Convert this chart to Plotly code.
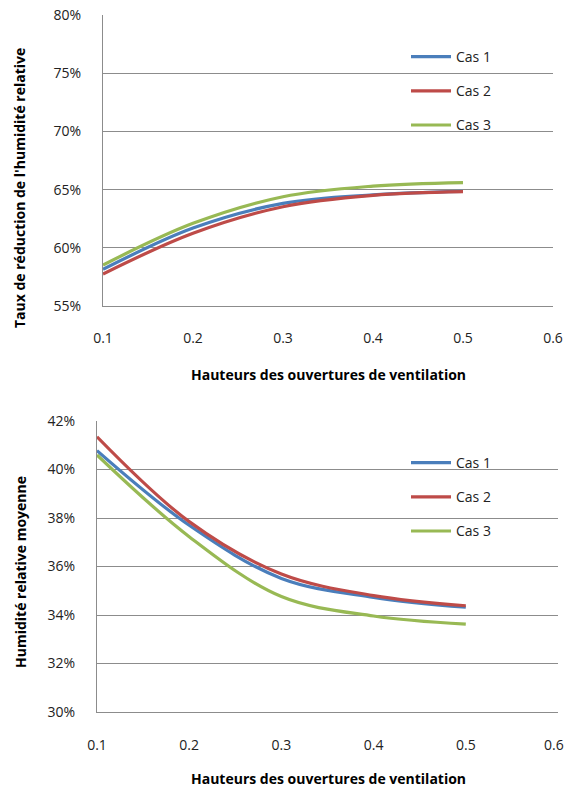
import plotly.graph_objects as go

x_vals = [0.1, 0.2, 0.3, 0.4, 0.5]
series_names = ["Cas 1", "Cas 2", "Cas 3"]
colors = ["#4A7EBB", "#BE4B48", "#98B954"]

# Top chart: Taux de réduction de l'humidité relative (%)
top_cas1 = [58.15, 61.7, 63.82, 64.55, 64.84]
top_cas2 = [57.75, 61.25, 63.53, 64.5, 64.82]
top_cas3 = [58.52, 62.1, 64.39, 65.3, 65.6]

# Bottom chart: Humidité relative moyenne (%)
bot_cas1 = [40.78, 37.7, 35.51, 34.73, 34.32]
bot_cas2 = [41.35, 37.85, 35.69, 34.8, 34.38]
bot_cas3 = [40.6, 37.23, 34.76, 33.96, 33.62]

x_ticks = [0.1, 0.2, 0.3, 0.4, 0.5, 0.6]
x_tick_text = ["0.1", "0.2", "0.3", "0.4", "0.5", "0.6"]
top_y_ticks = [55, 60, 65, 70, 75, 80]
bot_y_ticks = [30, 32, 34, 36, 38, 40, 42]

W, H = 565, 787
FONT = "Open Sans"
GRID = "#8C8C8C"
TICK_COLOR = "#222"

fig = go.Figure()
top_series = [top_cas1, top_cas2, top_cas3]
bot_series = [bot_cas1, bot_cas2, bot_cas3]
for i, (name, col, ys) in enumerate(zip(series_names, colors, top_series)):
    fig.add_trace(go.Scatter(x=x_vals, y=[v / 100 for v in ys], mode="lines",
                             line=dict(color=col, width=3.2, shape="spline", smoothing=1.0),
                             name=name, xaxis="x", yaxis="y", showlegend=True, legend="legend",
                             legendgroup=f"t{i}"))
for i, (name, col, ys) in enumerate(zip(series_names, colors, bot_series)):
    fig.add_trace(go.Scatter(x=x_vals, y=[v / 100 for v in ys], mode="lines",
                             line=dict(color=col, width=3.2, shape="spline", smoothing=1.0),
                             name=name, xaxis="x2", yaxis="y2", showlegend=True, legend="legend2",
                             legendgroup=f"b{i}"))

def px_x(p):
    return p / W

def px_y(p):
    return 1 - p / H

axis_common = dict(showgrid=True, gridcolor=GRID, gridwidth=1, zeroline=False, automargin=False,
                   ticks="", tickfont=dict(family=FONT, size=14, color=TICK_COLOR),
                   showline=True, linecolor=GRID, linewidth=1)

leg_common = dict(xanchor="left", yanchor="top",
                  font=dict(family=FONT, size=14, color=TICK_COLOR), bgcolor="rgba(0,0,0,0)",
                  tracegroupgap=13, itemwidth=40)

fig.update_layout(
    width=W, height=H, margin=dict(l=0, r=0, t=0, b=0),
    paper_bgcolor="white", plot_bgcolor="white",
    xaxis=dict(domain=[px_x(103), px_x(553)], range=[0.1, 0.6], anchor="y",
               tickvals=x_ticks, ticktext=x_tick_text, ticklabelstandoff=19,
               **{**axis_common, "showgrid": False}),
    yaxis=dict(domain=[px_y(306), px_y(15)], range=[0.55, 0.80], anchor="x",
               tickvals=[v / 100 for v in top_y_ticks], ticktext=[f"{v}%" for v in top_y_ticks],
               ticklabelstandoff=18, **axis_common),
    xaxis2=dict(domain=[px_x(97), px_x(558)], range=[0.1, 0.6], anchor="y2",
                tickvals=x_ticks[:-1], ticktext=x_tick_text[:-1], ticklabelstandoff=20,
                **{**axis_common, "showgrid": False}),
    yaxis2=dict(domain=[px_y(712), px_y(421)], range=[0.30, 0.42], anchor="x2",
                tickvals=[v / 100 for v in bot_y_ticks], ticktext=[f"{v}%" for v in bot_y_ticks],
                ticklabelstandoff=18, **axis_common),
    legend=dict(x=px_x(406), y=px_y(41), **leg_common),
    legend2=dict(x=px_x(406), y=px_y(447), **leg_common),
    showlegend=True,
)

# last x tick label of the lower chart sits at the page edge; keep it fully inside the page
fig.add_annotation(text=x_tick_text[-1], x=1.0, xref="paper", y=px_y(744), yref="paper",
                   showarrow=False, font=dict(family=FONT, size=14, color=TICK_COLOR),
                   xanchor="right", yanchor="middle", borderpad=0)

title_font = dict(family=FONT, size=14, color="black")
fig.add_annotation(text="<b>Hauteurs des ouvertures de ventilation</b>", x=px_x(328), y=px_y(374),
                   xref="paper", yref="paper", showarrow=False, font=title_font,
                   xanchor="center", yanchor="middle")
fig.add_annotation(text="<b>Hauteurs des ouvertures de ventilation</b>", x=px_x(328), y=px_y(778),
                   xref="paper", yref="paper", showarrow=False, font=title_font,
                   xanchor="center", yanchor="middle")
fig.add_annotation(text="<b>Taux de réduction de l'humidité relative</b>", x=px_x(20), y=px_y(188),
                   xref="paper", yref="paper", showarrow=False, font=title_font, textangle=-90,
                   xanchor="center", yanchor="middle")
fig.add_annotation(text="<b>Humidité relative moyenne</b>", x=px_x(20), y=px_y(572),
                   xref="paper", yref="paper", showarrow=False, font=title_font, textangle=-90,
                   xanchor="center", yanchor="middle")

fig.write_html("out.html")
